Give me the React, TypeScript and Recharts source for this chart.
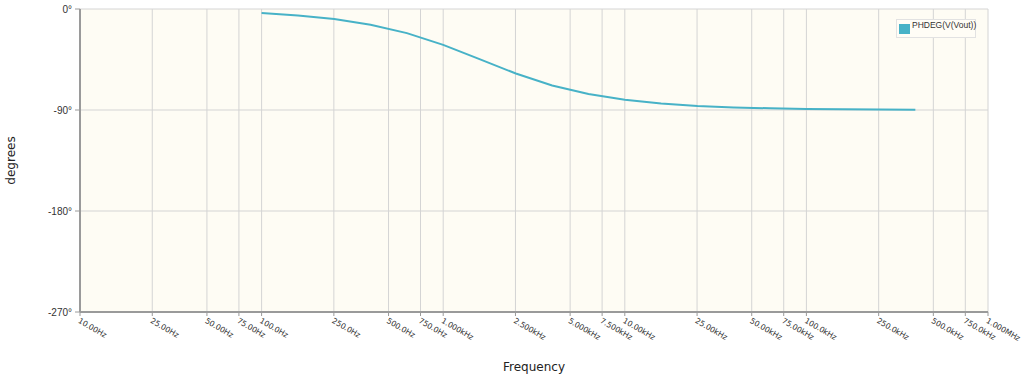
import { LineChart, Line, XAxis, YAxis, CartesianGrid, Label } from 'recharts'

// sampled frequencies (Hz), 5 points per decade
const frequencies = [
  100, 158.5, 251.2, 398.1, 631, 1000, 1585, 2512, 3981, 6310, 10000, 15849, 25119, 39811, 63096,
  100000, 158489, 251189, 398107,
]
// phase of V(Vout) in degrees
const phaseDeg = [
  -3.6, -5.7, -8.9, -14.0, -21.5, -32.0, -44.7, -57.5, -68.1, -75.8, -80.9, -84.2, -86.4, -87.7, -88.5,
  -89.1, -89.4, -89.6, -89.8,
]

const freqTicks = [
  10, 25, 50, 75, 100, 250, 500, 750, 1000, 2500, 5000, 7500, 10000, 25000, 50000, 75000, 100000, 250000,
  500000, 750000, 1000000,
]
const freqTickLabels = [
  '10.00Hz', '25.00Hz', '50.00Hz', '75.00Hz', '100.0Hz', '250.0Hz', '500.0Hz', '750.0Hz', '1.000kHz',
  '2.500kHz', '5.000kHz', '7.500kHz', '10.00kHz', '25.00kHz', '50.00kHz', '75.00kHz', '100.0kHz',
  '250.0kHz', '500.0kHz', '750.0kHz', '1.000MHz',
]
const degreeTicks = [0, -90, -180, -270]

const seriesName = 'PHDEG(V(Vout))'
const lineColor = '#47b2c7'
const frameColor = '#9a9a9a'
const gridColor = '#d4d4d4'

const data = frequencies.map((f, i) => ({ freq: f, phase: phaseDeg[i] }))

function FreqTick({ x, y, index }: { x: number; y: number; index: number }) {
  return (
    <g transform={`translate(${x},${y})`}>
      <text
        x={0}
        y={0}
        dy={5}
        transform="rotate(30)"
        textAnchor="start"
        fontSize={7.8}
        letterSpacing={-0.15}
        fontFamily="DejaVu Sans, sans-serif"
        fill="#333"
      >
        {freqTickLabels[index]}
      </text>
    </g>
  )
}

// legend sits over the plot area, so it is kept out of the chart layout
function LegendBox() {
  return (
    <div
      style={{
        position: 'absolute',
        left: 896,
        top: 19,
        border: '1px solid #e2e2e2',
        background: '#fffdf6',
        width: 80,
        height: 19,
        display: 'flex',
        alignItems: 'flex-start',
        boxSizing: 'border-box',
        fontFamily: 'Liberation Sans, Arial, sans-serif',
        fontSize: 8.5,
        color: '#333',
      }}
    >
      <span
        style={{ width: 11, height: 10, background: lineColor, marginLeft: 2, marginTop: 4, flex: 'none' }}
      />
      <span style={{ marginLeft: 2, whiteSpace: 'nowrap' }}>{seriesName}</span>
    </div>
  )
}

function YLabel(props: any) {
  const vb = props.viewBox || { x: 0, y: 0, width: 0, height: 0 }
  const cx = vb.x + 11
  const cy = vb.y + vb.height / 2
  return (
    <text
      x={cx}
      y={cy}
      transform={`rotate(-90, ${cx}, ${cy})`}
      textAnchor="middle"
      dominantBaseline="central"
      fontSize={12}
      fontFamily="DejaVu Sans, sans-serif"
      fill="#222"
    >
      degrees
    </text>
  )
}

export default function App() {
  return (
    <div style={{ position: 'absolute', left: 0, top: 0, width: 1024, height: 381, background: '#fff' }}>
      <LineChart
        width={1024}
        height={381}
        data={data}
        margin={{ top: 9, right: 36, bottom: 0, left: 0 }}
      >
        <CartesianGrid stroke={gridColor} fill="#fefcf4" />
        <XAxis
          dataKey="freq"
          type="number"
          scale="log"
          domain={[10, 1000000]}
          ticks={freqTicks}
          interval={0}
          height={69}
          axisLine={{ stroke: frameColor, strokeWidth: 2 }}
          tickLine={{ stroke: frameColor }}
          tickSize={4}
          tickMargin={2}
          tick={FreqTick as any}
          allowDataOverflow
        >
          <Label
            value="Frequency"
            position="insideBottom"
            offset={10}
            style={{ fontSize: 12, fontFamily: 'DejaVu Sans, sans-serif', fill: '#222' }}
          />
        </XAxis>
        <XAxis
          xAxisId="top"
          dataKey="freq"
          type="number"
          scale="log"
          domain={[10, 1000000]}
          orientation="top"
          height={0}
          tick={false}
          tickLine={false}
          axisLine={{ stroke: frameColor, strokeWidth: 2 }}
        />
        <YAxis
          type="number"
          domain={[-270, 0]}
          ticks={degreeTicks}
          interval={0}
          width={80}
          axisLine={{ stroke: frameColor, strokeWidth: 2 }}
          tickLine={{ stroke: frameColor }}
          tickSize={5}
          tickMargin={3}
          tickFormatter={(v) => `${v}°`}
          tick={{ fontSize: 10, fontFamily: 'Liberation Sans, Arial, sans-serif', fill: '#333' }}
        >
          <Label content={YLabel} />
        </YAxis>
        <YAxis
          yAxisId="right"
          orientation="right"
          type="number"
          domain={[-270, 0]}
          width={0}
          tick={false}
          tickLine={false}
          axisLine={{ stroke: '#a8a8a8', strokeWidth: 3 }}
        />
        <Line
          type="linear"
          dataKey="phase"
          name={seriesName}
          stroke={lineColor}
          strokeWidth={2}
          dot={false}
          activeDot={false}
          isAnimationActive={false}
        />
      </LineChart>
      <LegendBox />
    </div>
  )
}
